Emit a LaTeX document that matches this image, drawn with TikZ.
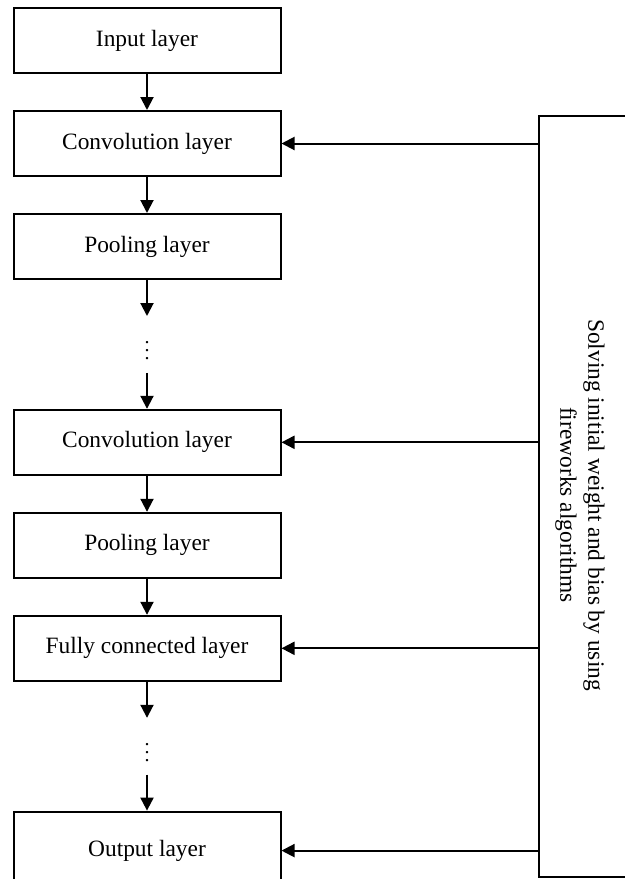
\documentclass[tikz,border=0pt]{standalone}
\usepackage{fontspec}
\setmainfont{Liberation Serif}
\usetikzlibrary{arrows.meta,positioning}

\begin{document}
\begin{tikzpicture}[x=0.5pt, y=-0.5pt,
                layer/.style={draw, line width=1pt, minimum width=133.5pt, minimum height=32.5pt, align=center, font=\fontsize{11.7}{14}\selectfont},
                gap/.style={minimum height=28pt, inner sep=0pt, font=\boldmath},
                arrow/.style={-{Triangle[length=6.5pt,width=6.5pt]}, line width=1pt},
                node distance=18pt
            ]

            \useasboundingbox (0,0) rectangle (625,879);

            \node[layer] (input) at (147,40.5) {Input layer};

            \node[layer, below=of input] (conv1) {Convolution layer};

            \node[layer, below=of conv1] (pool1) {Pooling layer};

            \node[gap, below=of pool1] (dots1) {$\vdots$};

            \node[layer, below=of dots1] (conv2) {Convolution layer};

            \node[layer, below=of conv2] (pool2) {Pooling layer};

            \node[layer, below=of pool2] (fc) {Fully connected layer};

            \node[gap, below=of fc] (dots2) {$\vdots$};

            \node[layer, below=of dots2, minimum height=39pt] (output) {Output layer};

            \draw[arrow] (input) -- (conv1);
            \draw[arrow] (conv1) -- (pool1);
            \draw[arrow] (pool1) -- (dots1);
            \draw[arrow] (dots1) -- (conv2);
            \draw[arrow] (conv2) -- (pool2);
            \draw[arrow] (pool2) -- (fc);
            \draw[arrow] (fc) -- (dots2);
            \draw[arrow] (dots2) -- (output);

            % fireworks panel on the right
            \node[draw, line width=1pt, minimum width=100pt, minimum height=380.5pt, anchor=north west] (panel) at (538,115) {};
            \node[rotate=-90, align=center, font=\fontsize{11.7}{14}\selectfont] (algo) at (580,505) {Solving initial weight and bias by using\\fireworks algorithms};

            \draw[arrow] (panel.west |- conv1.east) -- (conv1.east);
            \draw[arrow] (panel.west |- conv2.east) -- (conv2.east);
            \draw[arrow] (panel.west |- fc.east) -- (fc.east);
            \draw[arrow] (panel.west |- output.east) -- (output.east);

        \end{tikzpicture}
\end{document}
